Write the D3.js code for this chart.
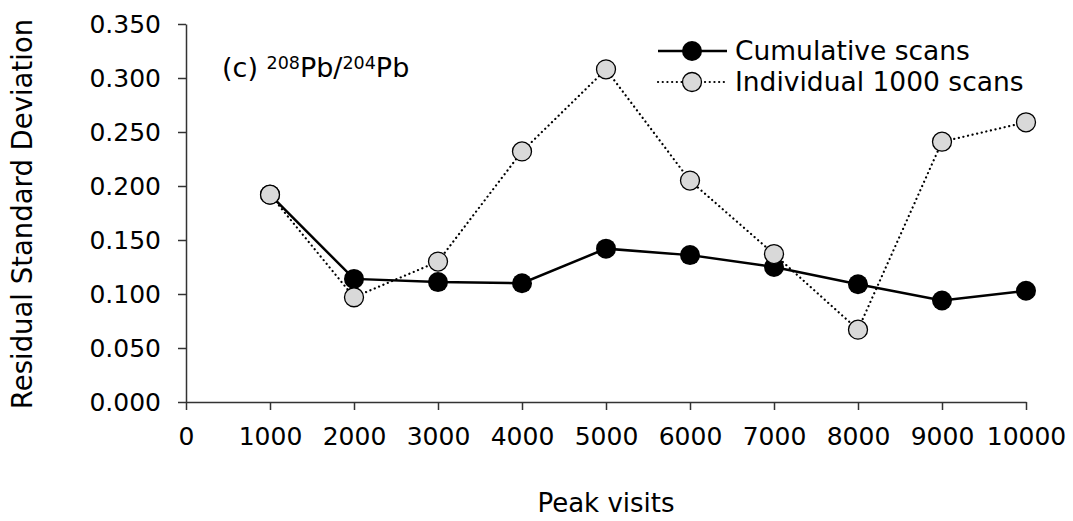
<!DOCTYPE html>
<html><head><meta charset="utf-8">
<script src="https://cdn.jsdelivr.net/npm/d3@7"></script>
<style>body{margin:0;background:#fff;} text{font-family:"DejaVu Sans",Verdana,sans-serif;}</style>
</head><body><svg id="c" width="1073" height="521"></svg>
<script>
const peakVisits = [1000,2000,3000,4000,5000,6000,7000,8000,9000,10000];
const cumulative = [0.192,0.114,0.111,0.110,0.142,0.136,0.125,0.109,0.094,0.103];
const individual = [0.192,0.097,0.130,0.232,0.308,0.205,0.137,0.067,0.241,0.259];
const xTicks = [0,1000,2000,3000,4000,5000,6000,7000,8000,9000,10000];
const yTicks = [0,0.05,0.1,0.15,0.2,0.25,0.3,0.35];
const seriesNames = ["Cumulative scans","Individual 1000 scans"];

const svg = d3.select("#c");
const x = d3.scaleLinear().domain([0,10000]).range([186,1026]);
const y = d3.scaleLinear().domain([0,0.35]).range([402,24]);

const tfs = 25;
const xa = svg.append("g").attr("transform","translate(0,402)")
  .call(d3.axisBottom(x).tickValues(xTicks).tickSize(8).tickSizeOuter(0).tickPadding(17).tickFormat(d3.format("d")));
const ya = svg.append("g").attr("transform","translate(186,0)")
  .call(d3.axisLeft(y).tickValues(yTicks).tickSize(8).tickSizeOuter(0).tickPadding(17).tickFormat(d3.format(".3f")));
[xa,ya].forEach(a=>{
  a.selectAll("path,line").attr("stroke","#333").attr("stroke-width",1.5);
  a.selectAll("text").attr("font-size",tfs).attr("fill","#000").style("font-family","DejaVu Sans, Verdana, sans-serif");
});

const line = d3.line().x((d,i)=>x(peakVisits[i])).y(d=>y(d));
svg.append("path").datum(individual).attr("d",line).attr("fill","none")
  .attr("stroke","#000").attr("stroke-width",2.2).attr("stroke-dasharray","0.1,4.6").attr("stroke-linecap","round");
svg.append("path").datum(cumulative).attr("d",line).attr("fill","none")
  .attr("stroke","#000").attr("stroke-width",2.5);

svg.append("g").selectAll("circle").data(cumulative).join("circle")
  .attr("cx",(d,i)=>x(peakVisits[i])).attr("cy",d=>y(d)).attr("r",10).attr("fill","#000");
svg.append("g").selectAll("circle").data(individual).join("circle")
  .attr("cx",(d,i)=>x(peakVisits[i])).attr("cy",d=>y(d)).attr("r",9.5)
  .attr("fill","#d9d9d9").attr("stroke","#000").attr("stroke-width",1.3);

// legend
const lg = svg.append("g");
lg.append("line").attr("x1",658).attr("x2",727).attr("y1",51).attr("y2",51).attr("stroke","#000").attr("stroke-width",2.5);
lg.append("circle").attr("cx",692).attr("cy",51).attr("r",10).attr("fill","#000");
lg.append("line").attr("x1",658).attr("x2",727).attr("y1",82).attr("y2",82).attr("stroke","#000").attr("stroke-width",2.2)
  .attr("stroke-dasharray","0.1,4.6").attr("stroke-linecap","round");
lg.append("circle").attr("cx",692).attr("cy",82).attr("r",9.5).attr("fill","#d9d9d9").attr("stroke","#000").attr("stroke-width",1.3);
lg.selectAll("text.l").data(seriesNames).join("text").attr("class","l")
  .attr("x",735).attr("y",(d,i)=>51+i*31).attr("dy","0.35em").attr("font-size",26.5).text(d=>d);

// panel label
const t = svg.append("text").attr("x",222).attr("y",77).attr("font-size",27);
t.append("tspan").text("(c) ");
t.append("tspan").attr("font-size",17.5).attr("dy",-8).text("208");
t.append("tspan").attr("dy",8).text("Pb/");
t.append("tspan").attr("font-size",17.5).attr("dy",-8).text("204");
t.append("tspan").attr("dy",8).text("Pb");

svg.append("text").attr("x",606).attr("y",512).attr("text-anchor","middle").attr("font-size",26).text("Peak visits");
svg.append("text").attr("transform","translate(32,214) rotate(-90)").attr("text-anchor","middle").attr("font-size",27.5).text("Residual Standard Deviation");
</script></body></html>
